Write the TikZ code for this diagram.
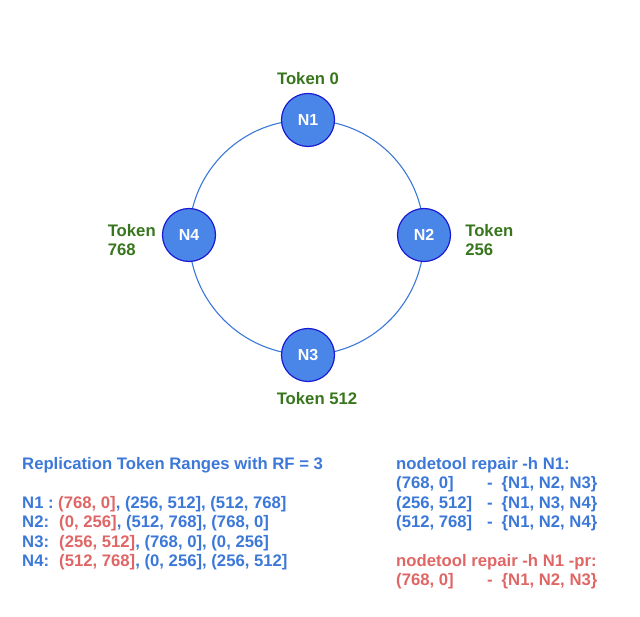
\documentclass[tikz,border=0pt]{standalone}
\usepackage{fontspec}
\setmainfont{Liberation Sans}
\usetikzlibrary{positioning,backgrounds}

\definecolor{ringblue}{HTML}{3C78D8}
\definecolor{nodefill}{HTML}{4A86E8}
\definecolor{nodeline}{HTML}{1A1AD4}
\definecolor{tokgreen}{HTML}{38761D}
\definecolor{rangered}{HTML}{E06666}

\newcommand{\own}[1]{\textcolor{rangered}{#1}}
\newcommand{\repline}[2]{\makebox[91pt][l]{#1}-\hspace{9pt}\{#2\}}

\begin{document}
\begin{tikzpicture}[x=1pt, y=-1pt, node distance=8pt,
    peer/.style={circle, draw=nodeline, fill=nodefill, line width=1.2pt, minimum size=53pt, inner sep=0pt, text=white, font=\fontsize{16}{19}\selectfont\bfseries},
    token/.style={inner sep=0pt, text=tokgreen, align=left, font=\fontsize{16.7}{19.4}\selectfont\bfseries},
    note/.style={inner sep=0pt, anchor=north west, align=left, text=ringblue, font=\fontsize{16.7}{19.4}\selectfont\bfseries},
    link/.style={draw=ringblue, line width=1.1pt}]
    \useasboundingbox (0,0) rectangle (640,617);
    % ring of peers
    \node [peer] (n1) at (308,120) {N1};
    \node [peer] (n2) at (424,235) {N2};
    \node [peer] (n3) at (308,355) {N3};
    \node [peer] (n4) at (189,235) {N4};
    \begin{scope}[on background layer]
    \draw [link] (n1.center) to[bend left=45] (n2.center);
    \draw [link] (n2.center) to[bend left=45] (n3.center);
    \draw [link] (n3.center) to[bend left=45] (n4.center);
    \draw [link] (n4.center) to[bend left=45] (n1.center);
    \end{scope}
    % tokens
    \node [token, above=8pt of n1] (t1) {Token 0};
    \node [token, right=14pt of n2, yshift=-5pt] (t2) {Token\\256};
    \node [token, below=10pt of n3, xshift=9pt] (t3) {Token 512};
    \node [token, left=6pt of n4, yshift=-5pt] (t4) {Token\\768};
    % ranges
    \node [note] (title) at (22,457) {Replication Token Ranges with RF = 3};
    \node [note] (ranges) at (22,496) {%
        \makebox[36pt][l]{N1 :}\own{(768, 0]}, (256, 512], (512, 768]\\
        \makebox[37pt][l]{N2:}\own{(0, 256]}, (512, 768], (768, 0]\\
        \makebox[37pt][l]{N3:}\own{(256, 512]}, (768, 0], (0, 256]\\
        \makebox[37pt][l]{N4:}\own{(512, 768]}, (0, 256], (256, 512]};
    % repair
    \node [note] (full) at (396,457) {%
        nodetool repair -h N1:\\
        \repline{(768, 0]}{N1, N2, N3}\\
        \repline{(256, 512]}{N1, N3, N4}\\
        \repline{(512, 768]}{N1, N2, N4}};
    \node [note, text=rangered] (pr) at (396,554) {%
        nodetool repair -h N1 -pr:\\
        \repline{(768, 0]}{N1, N2, N3}};
\end{tikzpicture}
\end{document}
